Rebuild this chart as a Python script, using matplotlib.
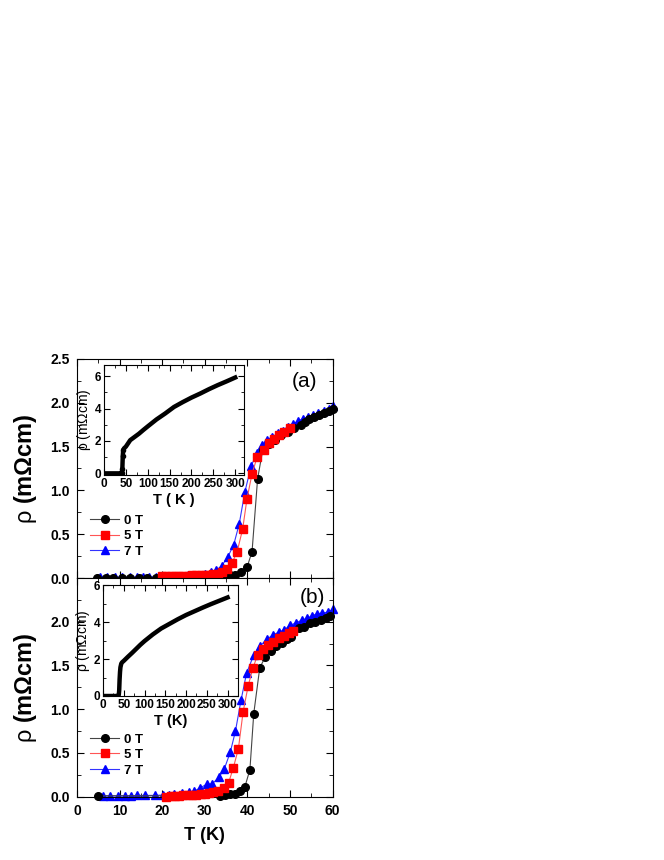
import matplotlib
matplotlib.use('Agg')
import matplotlib.pyplot as plt
from matplotlib.ticker import MultipleLocator

# ---- panel (a) data: rho (mOhm cm) vs T (K) ----
a_T0 = [4.6, 6.8, 8.5, 10.5, 12.5, 14.5, 16.5, 18.5, 20.5, 22.5, 24.5, 26.5, 28.5, 30, 31.5,
        32.8, 34, 35, 36, 37.2, 38.5, 39.9, 41.1, 42.4, 43.6, 45, 46.5, 48, 49.5, 51, 52.5,
        53.5, 54.5, 55.6, 56.8, 58, 59.1, 60]
a_R0 = [0.0, 0.0, 0.0, 0.0, 0.0, 0.0, 0.0, 0.0, 0.0, 0.0, 0.0, 0.0, 0.0, 0.0, 0.005,
        0.01, 0.015, 0.02, 0.03, 0.04, 0.065, 0.12, 0.30, 1.13, 1.46, 1.53, 1.58, 1.63, 1.67,
        1.71, 1.75, 1.78, 1.82, 1.84, 1.86, 1.88, 1.91, 1.93]
a_T5 = [20, 21, 22, 23, 24, 25, 26, 27, 28, 29, 30, 31, 32, 33, 34, 35.2, 36.4, 37.6, 38.9,
        39.9, 41.1, 42.3, 43.8, 45, 46.2, 47.4, 48.5, 49.9]
a_R5 = [0.02, 0.02, 0.02, 0.02, 0.025, 0.025, 0.025, 0.03, 0.03, 0.03, 0.035, 0.04, 0.045,
        0.05, 0.07, 0.10, 0.17, 0.30, 0.56, 0.90, 1.19, 1.38, 1.46, 1.54, 1.59, 1.63, 1.67, 1.71]
a_T7 = [5.5, 7, 8.9, 10.5, 12.5, 14, 15.5, 17, 18.5, 20, 21.5, 23, 24.5, 26, 27.5, 29, 30.1,
        31.5, 32.7, 34.0, 35.4, 36.8, 38.1, 39.4, 40.9, 42.3, 43.5, 44.7, 45.9, 47.1, 48.3,
        49.5, 50.7, 51.9, 53.1, 54.3, 55.5, 56.7, 57.9, 59.1, 60]
a_R7 = [0.01, 0.01, 0.01, 0.01, 0.01, 0.01, 0.01, 0.01, 0.015, 0.02, 0.02, 0.025, 0.025, 0.03,
        0.035, 0.04, 0.05, 0.07, 0.09, 0.14, 0.24, 0.38, 0.62, 0.98, 1.28, 1.43, 1.52, 1.57,
        1.61, 1.65, 1.68, 1.72, 1.76, 1.79, 1.82, 1.84, 1.86, 1.88, 1.91, 1.93, 1.96]

# inset (a), 0 T over full range
ia_T = [0, 10, 20, 30, 38, 40, 41, 42, 43, 44, 46, 50, 60, 70, 80, 90, 100, 120, 140, 160,
        180, 200, 220, 240, 260, 280, 300]
ia_R = [0, 0, 0, 0, 0, 0.0, 0.05, 0.3, 1.1, 1.45, 1.55, 1.65, 2.05, 2.25, 2.45, 2.68, 2.9,
        3.33, 3.7, 4.1, 4.4, 4.68, 4.93, 5.2, 5.45, 5.68, 5.92]

# ---- panel (b) data ----
b_T0 = [5, 33.5, 34.8, 36, 37.2, 38.2, 39.4, 40.6, 41.5, 42.9, 44.2, 45.5, 46.8, 48.1, 49.3,
        50.3, 52.1, 53.3, 54.7, 55.8, 57.2, 58.4, 59.5]
b_R0 = [0.01, 0.01, 0.02, 0.03, 0.03, 0.06, 0.11, 0.31, 0.95, 1.47, 1.60, 1.67, 1.72, 1.76,
        1.80, 1.83, 1.93, 1.94, 1.98, 2.00, 2.02, 2.04, 2.07]
b_T5 = [21, 22, 23, 24, 25, 26, 27, 28, 29, 30, 31, 32, 33.2, 34.4, 35.6, 36.7, 37.9, 39.0,
        40.2, 41.3, 42.4, 43.7, 44.9, 46.1, 47.4, 48.6, 49.8, 50.6]
b_R5 = [0.0, 0.005, 0.01, 0.01, 0.015, 0.02, 0.02, 0.025, 0.03, 0.035, 0.04, 0.05, 0.06, 0.10,
        0.16, 0.33, 0.55, 0.97, 1.27, 1.47, 1.62, 1.69, 1.73, 1.77, 1.81, 1.84, 1.87, 1.89]
b_T7 = [6.2, 7.8, 9.7, 11.3, 12.7, 14, 16, 18.4, 20.3, 21.5, 22.7, 24.6, 26.2, 27.4, 28.9,
        30.5, 31.7, 33.3, 34.6, 36.0, 37.2, 38.5, 39.8, 41.5, 42.9, 44.6, 46.0, 47.4, 48.7,
        50.1, 51.5, 52.9, 54.1, 55.2, 56.4, 57.6, 58.9, 60]
b_R7 = [0.01, 0.01, 0.01, 0.01, 0.01, 0.015, 0.015, 0.015, 0.02, 0.025, 0.03, 0.04, 0.05,
        0.06, 0.10, 0.145, 0.145, 0.22, 0.32, 0.51, 0.75, 1.10, 1.41, 1.62, 1.72, 1.80, 1.85,
        1.88, 1.91, 1.96, 1.99, 2.02, 2.04, 2.07, 2.09, 2.10, 2.11, 2.14]

ib_T = [0, 10, 20, 30, 36, 38, 39, 40, 41, 42, 43, 44, 46, 50, 60, 70, 80, 90, 100, 120, 140,
        160, 180, 200, 220, 240, 260, 280, 300]
ib_R = [0, 0, 0, 0, 0, 0.05, 0.3, 0.9, 1.3, 1.55, 1.65, 1.75, 1.82, 1.9, 2.12, 2.33, 2.55,
        2.77, 2.97, 3.33, 3.65, 3.9, 4.15, 4.38, 4.58, 4.78, 4.97, 5.15, 5.33]

plt.rcParams['font.family'] = ['Liberation Sans', 'DejaVu Sans']
plt.rcParams['mathtext.fontset'] = 'custom'
plt.rcParams['mathtext.rm'] = 'Liberation Sans'

fig = plt.figure(figsize=(6.64, 8.6), dpi=100)

axA = fig.add_axes([0.116, 0.3279, 0.3848, 0.2547])
axB = fig.add_axes([0.116, 0.0736, 0.3848, 0.2543])


def style_main(ax):
    ax.set_xlim(0, 60)
    ax.set_ylim(0, 2.5)
    ax.xaxis.set_major_locator(MultipleLocator(10))
    ax.xaxis.set_minor_locator(MultipleLocator(5))
    ax.yaxis.set_major_locator(MultipleLocator(0.5))
    ax.yaxis.set_minor_locator(MultipleLocator(0.25))
    ax.tick_params(which='both', direction='in', top=True, right=True, labelsize=10, pad=5)
    ax.tick_params(which='major', length=5)
    ax.tick_params(which='minor', length=3)
    ax.yaxis.set_major_formatter('{x:.1f}')
    for lab in ax.get_xticklabels() + ax.get_yticklabels():
        lab.set_fontweight('bold')
    ax.set_ylabel(r'$\mathrm{\rho}$ (mΩcm)', fontsize=17, fontweight='bold', labelpad=8)


def plot_main(ax, T0, R0, T5, R5, T7, R7):
    ax.plot(T0, R0, '-o', color='#444444', mfc='black', mec='black', ms=5.5, lw=0.8,
            label='0 T', clip_on=False, zorder=3)
    ax.plot(T5, R5, '-s', color='#ff5555', mfc='red', mec='red', ms=5.5, lw=0.8,
            label='5 T', clip_on=False, zorder=3)
    ax.plot(T7, R7, '-^', color='#3333ff', mfc='blue', mec='blue', ms=6, lw=0.8,
            label='7 T', clip_on=False, zorder=2)
    leg = ax.legend(loc='upper left', bbox_to_anchor=(0.025, 0.32), frameon=False,
                    handlelength=2.2, handletextpad=0.4, labelspacing=0.25,
                    borderpad=0, fontsize=9.5)
    for t in leg.get_texts():
        t.set_fontweight('bold')


plot_main(axA, a_T0, a_R0, a_T5, a_R5, a_T7, a_R7)
plot_main(axB, b_T0, b_R0, b_T5, b_R5, b_T7, b_R7)
style_main(axA)
style_main(axB)
axA.tick_params(labelbottom=False)
axB.set_yticks([0, 0.5, 1.0, 1.5, 2.0])
axB.set_ylim(0, 2.5)
for lab in axB.get_xticklabels() + axB.get_yticklabels():
    lab.set_fontweight('bold')
axB.set_xlabel('T (K)', fontsize=13, fontweight='bold', labelpad=7)

axA.text(0.89, 0.895, '(a)', transform=axA.transAxes, fontsize=15, ha='center', va='center')
axB.text(0.92, 0.913, '(b)', transform=axB.transAxes, fontsize=15, ha='center', va='center')

# insets
inA = fig.add_axes([0.1566, 0.4477, 0.2108, 0.128])
inB = fig.add_axes([0.1551, 0.1907, 0.2033, 0.129])

inA.plot(ia_T, ia_R, '-', color='black', lw=3.2)
inA.plot(ia_T[6:10], ia_R[6:10], 'o', color='black', ms=3)
inA.set_xlim(0, 320)
inA.set_ylim(-0.1, 6.7)
inA.set_xlabel('T ( K )', fontsize=10.5, fontweight='bold', labelpad=2)

inB.plot(ib_T, ib_R, '-', color='black', lw=3.2)
inB.set_xlim(0, 325)
inB.set_ylim(0, 6)
inB.set_xlabel('T (K)', fontsize=10.5, fontweight='bold', labelpad=2)

for ax in (inA, inB):
    ax.xaxis.set_major_locator(MultipleLocator(50))
    ax.xaxis.set_minor_locator(MultipleLocator(25))
    ax.yaxis.set_major_locator(MultipleLocator(2))
    ax.yaxis.set_minor_locator(MultipleLocator(1))
    ax.tick_params(which='both', direction='in', top=True, right=True, labelsize=8.5, pad=2)
    ax.tick_params(which='major', length=4)
    ax.tick_params(which='minor', length=2)
    for lab in ax.get_xticklabels() + ax.get_yticklabels():
        lab.set_fontweight('bold')
    ax.set_ylabel(r'$\mathrm{\rho}$ (mΩcm)', fontsize=10, labelpad=1)

fig.savefig('out.png', dpi=100)
